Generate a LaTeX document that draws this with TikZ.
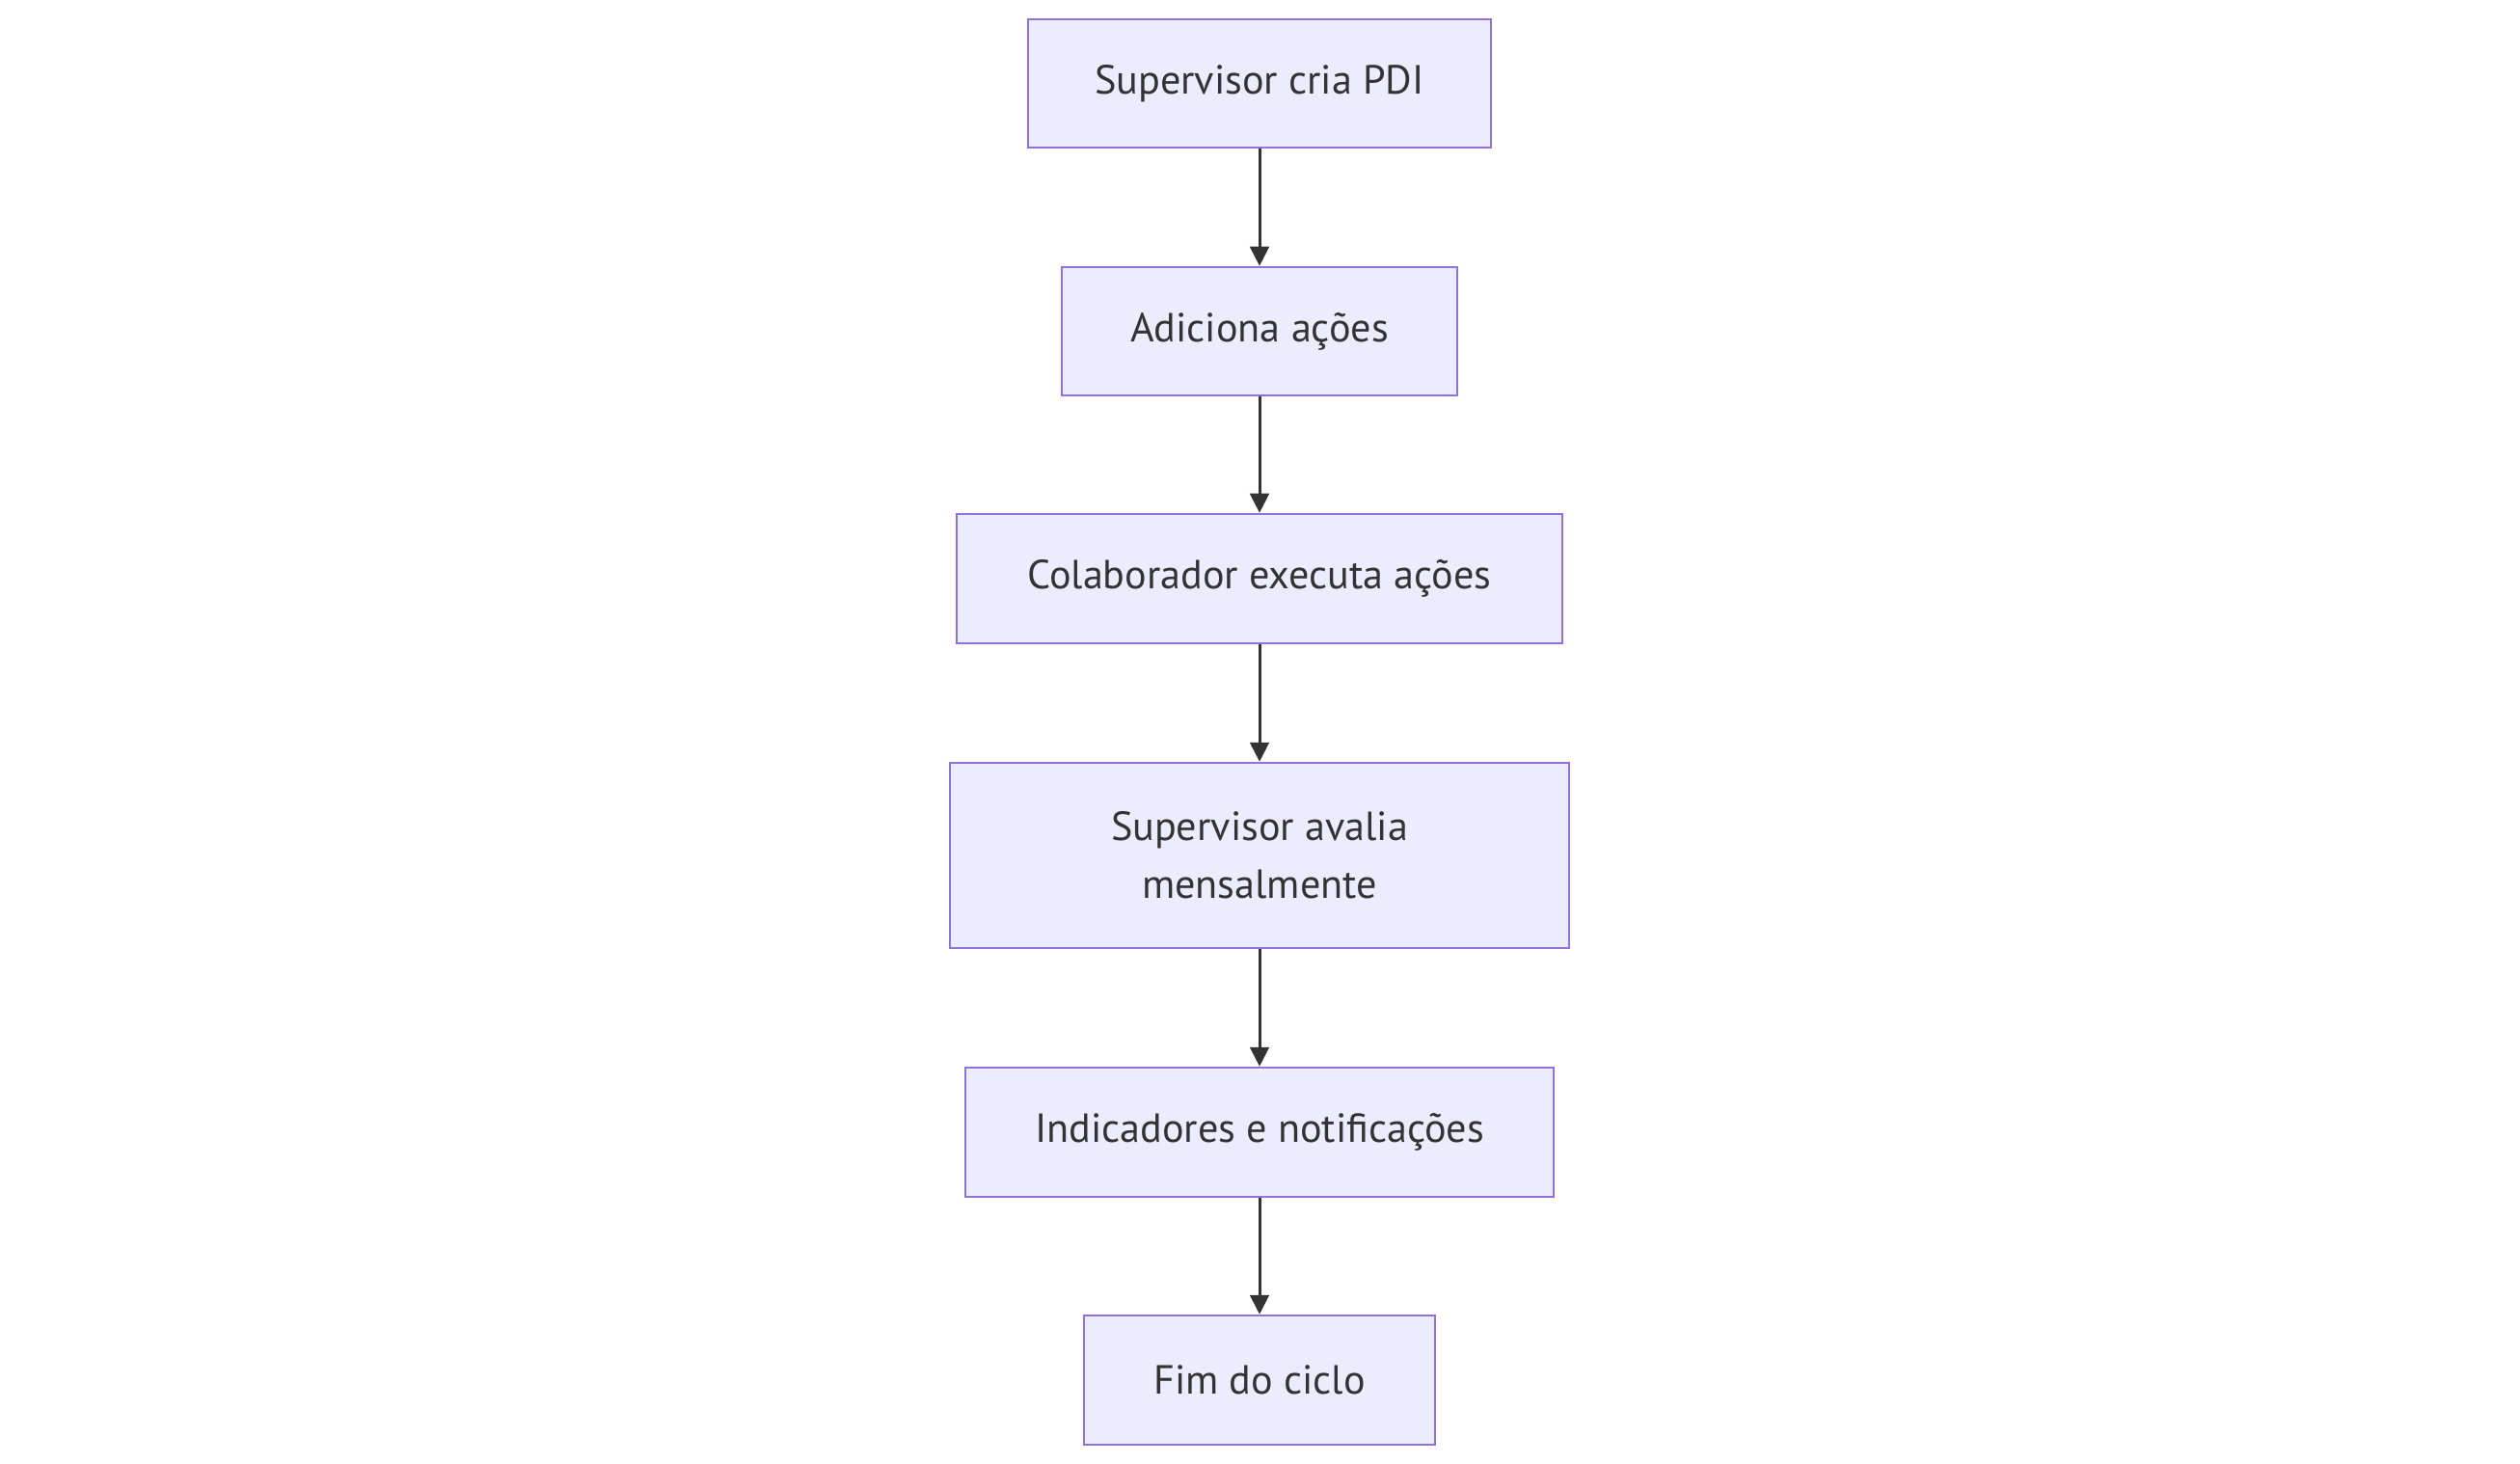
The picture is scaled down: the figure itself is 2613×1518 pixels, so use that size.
\documentclass[tikz,border=0pt]{standalone}
\usepackage{fontspec}
\setmainfont{PT Sans}
\usetikzlibrary{arrows.meta}
\definecolor{nodefill}{HTML}{ECECFF}
\definecolor{nodeborder}{HTML}{9370DB}
\definecolor{edgecol}{HTML}{333333}
\definecolor{textcol}{HTML}{333333}
\begin{document}
\begin{tikzpicture}[x=0.3pt,y=-0.3pt,
  flowbox/.style={draw=nodeborder, fill=nodefill, line width=0.75pt, inner sep=0pt,
    text=textcol, font=\fontsize{12.65}{18}\selectfont, align=center},
  flowedge/.style={draw=edgecol, line width=0.9pt, -{Triangle[width=5.9pt,length=6pt]}}]
\useasboundingbox (0,0) rectangle (2613,1518);
\node[flowbox, minimum width=144pt, minimum height=39.9pt] (b1) at (1306,86.5) {Supervisor cria PDI};
\node[flowbox, minimum width=123pt, minimum height=39.9pt] (b2) at (1306,343.5) {Adiciona ações};
\node[flowbox, minimum width=188.4pt, minimum height=40.2pt] (b3) at (1306,600) {Colaborador executa ações};
\node[flowbox, minimum width=192.6pt, minimum height=57.6pt] (b4) at (1306,887) {Supervisor avalia\\mensalmente};
\node[flowbox, minimum width=183pt, minimum height=40.2pt] (b5) at (1306,1174) {Indicadores e notificações};
\node[flowbox, minimum width=109.2pt, minimum height=40.2pt] (b6) at (1306,1431) {Fim do ciclo};
\draw[flowedge] (b1) -- (b2);
\draw[flowedge] (b2) -- (b3);
\draw[flowedge] (b3) -- (b4);
\draw[flowedge] (b4) -- (b5);
\draw[flowedge] (b5) -- (b6);
\end{tikzpicture}
\end{document}
